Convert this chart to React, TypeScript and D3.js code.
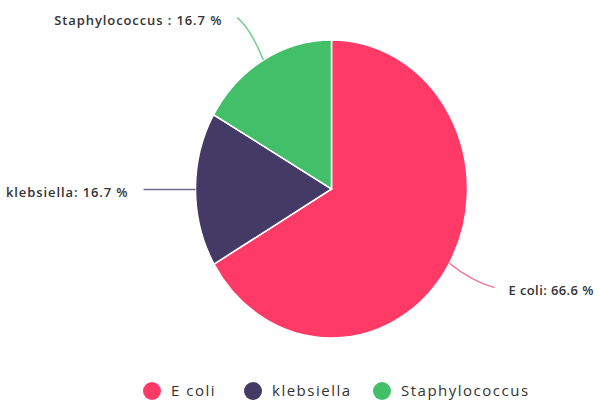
import React from "react";
import * as d3 from "d3";

const categories = ["E coli", "klebsiella", "Staphylococcus"];
const values = [66.6, 16.7, 16.7];
const colors = ["#ff3a67", "#433a66", "#43bf6a"];

const W = 600;
const H = 405;
const cx = 331.5;
const cy = 189;
const R = 136;
const SY = 1.096;

export default function App() {
  const data = categories.map((c, i) => ({ name: c, value: values[i], color: colors[i] }));
  const pie = d3.pie<any>().sort(null).value((d) => d.value).startAngle(0).endAngle(2 * Math.PI);
  const arcs = pie(data);
  const arc = d3.arc<any>().innerRadius(0).outerRadius(R);
  const font = "'Open Sans', sans-serif";

  const legendX = [152, 253, 382];

  return (
    <svg width={W} height={H} style={{ position: "absolute", left: 0, top: 0, background: "#fff" }}>
      <g transform={`translate(${cx},${cy}) scale(1,${SY})`}>
        {arcs.map((a, i) => (
          <path key={i} d={arc(a) || ""} fill={a.data.color} stroke="#fff" strokeWidth={1.5} vectorEffect="non-scaling-stroke" />
        ))}
      </g>
      {arcs.map((a, i) => {
        const m = (a.startAngle + a.endAngle) / 2;
        const sx = cx + R * Math.sin(m);
        const sy = cy - R * Math.cos(m) * SY;
        const ex = cx + 188 * Math.sin(m);
        const ey = cy - 198 * Math.cos(m);
        const qx = (sx + ex) / 2;
        const qy = ey * 0.75 + sy * 0.25;
        const right = ex > cx;
        const pct = a.data.value.toFixed(1);
        const label = a.data.name === "Staphylococcus" ? `${a.data.name} : ${pct} %` : `${a.data.name}: ${pct} %`;
        return (
          <g key={"l" + i}>
            <path d={`M${sx},${sy} Q${qx},${qy} ${ex},${ey}`} fill="none" stroke={a.data.color} strokeOpacity={0.75} strokeWidth={1.5} />
            <text
              x={right ? ex + 14 : ex - 15}
              y={ey + 4}
              textAnchor={right ? "start" : "end"}
              dominantBaseline="middle"
              fontFamily={font}
              fontSize={13}
              fontWeight={600}
              letterSpacing={right ? 0.4 : 0.9}
              fill="#333"
            >
              {label}
            </text>
          </g>
        );
      })}
      {data.map((d, i) => (
        <g key={"lg" + i} transform={`translate(${legendX[i]},391)`}>
          <circle r={9} fill={d.color} />
          <text x={19} y={1} dominantBaseline="middle" fontFamily={font} fontSize={15} letterSpacing={1.5} fill="#333">
            {d.name}
          </text>
        </g>
      ))}
    </svg>
  );
}
